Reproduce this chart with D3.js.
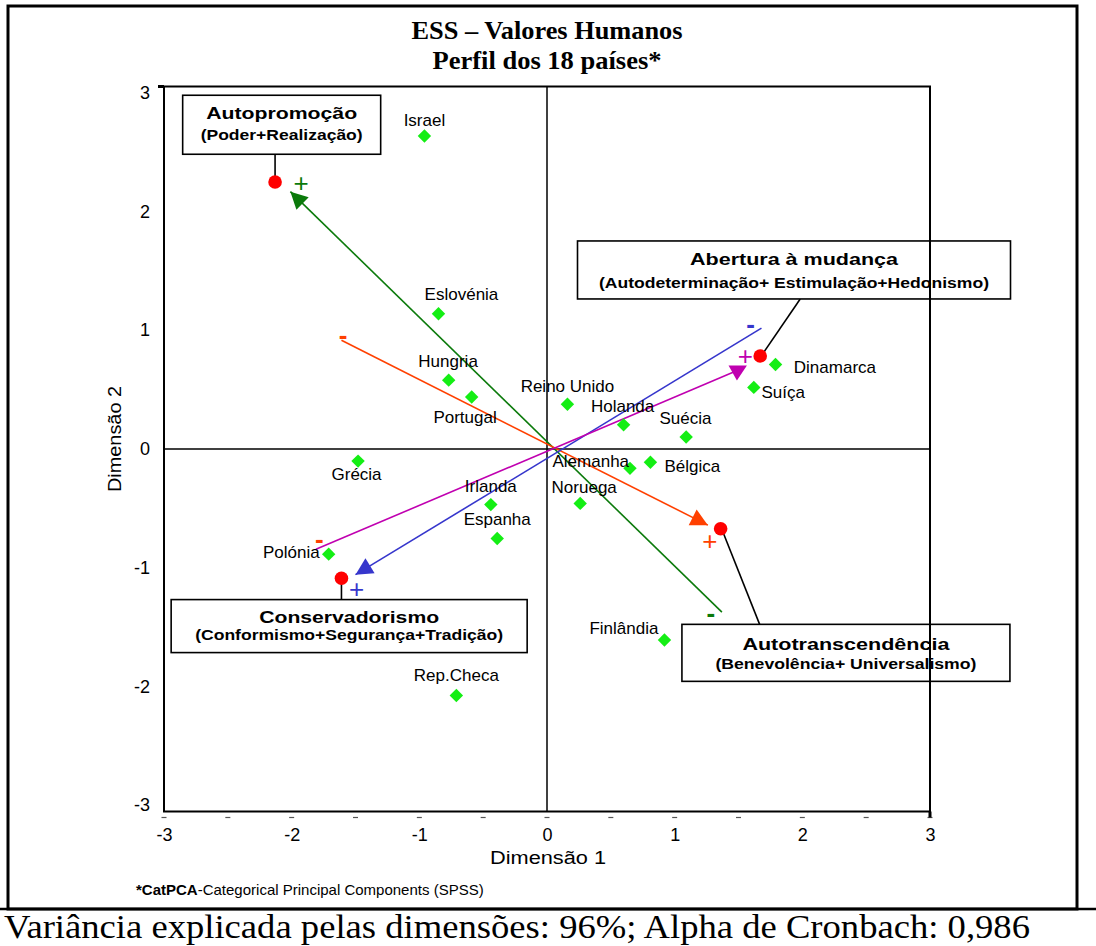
<!DOCTYPE html>
<html>
<head>
<meta charset="utf-8">
<script src="https://cdn.jsdelivr.net/npm/d3@7"></script>
<style>
  body { margin: 0; background: #fff; }
  svg { display: block; }
</style>
</head>
<body>
<svg id="chart" width="1096" height="946"></svg>
<script>
// ---- Country scores on the two CatPCA dimensions ----
const countries = ["Israel","Eslovénia","Hungria","Portugal","Reino Unido","Holanda","Suécia",
  "Dinamarca","Suíça","Alemanha","Bélgica","Noruega","Irlanda","Espanha","Grécia","Polónia",
  "Finlândia","Rep.Checa"];
const dim1 = [-0.96,-0.85,-0.77,-0.59,0.16,0.60,1.09,1.79,1.62,0.65,0.81,0.26,-0.44,-0.39,-1.48,-1.71,0.92,-0.71];
const dim2 = [2.59,1.12,0.57,0.43,0.37,0.20,0.10,0.70,0.51,-0.16,-0.11,-0.45,-0.46,-0.74,-0.10,-0.87,-1.58,-2.04];

// ---- Higher-order value types (red points with captions) ----
const valueTypes = ["Autopromoção","Abertura à mudança","Conservadorismo","Autotranscendência"];
const valueSub = ["(Poder+Realização)","(Autodeterminação+ Estimulação+Hedonismo)",
  "(Conformismo+Segurança+Tradição)","(Benevolência+ Universalismo)"];
const valueX = [-2.13, 1.67, -1.61, 1.36];
const valueY = [2.21, 0.77, -1.07, -0.66];

// ---- Value axes: from the "-" pole to the "+" pole ----
const vecPole = ["Autopromoção","Autotranscendência","Conservadorismo","Abertura à mudança"];
const vecFromX = [1.37, -1.61, 1.68, -1.81];
const vecFromY = [-1.35, 0.90, 1.00, -0.83];
const vecToX = [-2.01, 1.26, -1.50, 1.49];
const vecToY = [2.13, -0.63, -1.04, 0.65];

// ---- Tick values ----
const xTicks = [-3,-2,-1,0,1,2,3];
const yTicks = [-3,-2,-1,0,1,2,3];
const minorTicks = d3.range(-3, 3.01, 0.5);

// ---------------------------------------------------------------
const svg = d3.select("#chart");
const sans = "Arial, 'Liberation Sans', Helvetica, sans-serif";
const serif = "'Times New Roman', 'Liberation Serif', Times, serif";
const plain = d => String(d);

const x = d3.scaleLinear().domain([-3, 3]).range([164, 930]);
const y = d3.scaleLinear().domain([-3, 3]).range([811.5, 86.5]);
const yLab = d3.scaleLinear().domain([-3, 3]).range([805, 92.5]);

// outer frame and caption row
svg.append("rect").attr("x", 8).attr("y", 6).attr("width", 1069).attr("height", 903)
  .attr("fill", "none").attr("stroke", "#000").attr("stroke-width", 3);
svg.append("line").attr("x1", 0).attr("x2", 1096).attr("y1", 909).attr("y2", 909)
  .attr("stroke", "#000").attr("stroke-width", 2.5);
svg.append("text").attr("x", 4).attr("y", 938)
  .attr("font-family", serif).attr("font-size", 34)
  .attr("textLength", 1026).attr("lengthAdjust", "spacingAndGlyphs")
  .text("Variância explicada pelas dimensões: 96%; Alpha de Cronbach: 0,986");

// title
svg.append("text").attr("x", 547).attr("y", 39).attr("text-anchor", "middle")
  .attr("font-family", serif).attr("font-weight", "bold").attr("font-size", 25)
  .attr("textLength", 271).attr("lengthAdjust", "spacingAndGlyphs")
  .text("ESS – Valores Humanos");
svg.append("text").attr("x", 547).attr("y", 69).attr("text-anchor", "middle")
  .attr("font-family", serif).attr("font-weight", "bold").attr("font-size", 25)
  .attr("textLength", 229).attr("lengthAdjust", "spacingAndGlyphs")
  .text("Perfil dos 18 países*");

// footnote
const fn = svg.append("text").attr("x", 136).attr("y", 895)
  .attr("font-family", sans).attr("font-size", 15);
fn.append("tspan").attr("font-weight", "bold").text("*CatPCA");
fn.append("tspan").text("-Categorical Principal Components (SPSS)");

// axes (labels only)
const xAxis = svg.append("g").attr("transform", `translate(0,${y(-3)})`)
  .call(d3.axisBottom(x).tickValues(xTicks).tickSize(0).tickPadding(17).tickFormat(plain));
xAxis.select(".domain").remove();
xAxis.selectAll("text").attr("font-family", sans).attr("font-size", 18).attr("fill", "#000");

const yAxis = svg.append("g").attr("transform", `translate(${x(-3)},0)`)
  .call(d3.axisLeft(yLab).tickValues(yTicks).tickSize(0).tickPadding(14).tickFormat(plain));
yAxis.select(".domain").remove();
yAxis.selectAll("text").attr("font-family", sans).attr("font-size", 18).attr("fill", "#000");

// half-unit dashes under the x axis
svg.append("g").selectAll("line").data(minorTicks).join("line")
  .attr("x1", d => x(d) - 2.5).attr("x2", d => x(d) + 2.5)
  .attr("y1", y(-3) + 6).attr("y2", y(-3) + 6)
  .attr("stroke", "#555").attr("stroke-width", 1.2);

// axis titles
svg.append("text").attr("x", 548).attr("y", 864).attr("text-anchor", "middle")
  .attr("font-family", sans).attr("font-size", 18)
  .attr("textLength", 116).attr("lengthAdjust", "spacingAndGlyphs").text("Dimensão 1");
svg.append("text").attr("transform", "translate(121,439) rotate(-90)").attr("text-anchor", "middle")
  .attr("font-family", sans).attr("font-size", 18)
  .attr("textLength", 106).attr("lengthAdjust", "spacingAndGlyphs").text("Dimensão 2");

// zero lines
svg.append("line").attr("x1", x(-3)).attr("x2", x(3)).attr("y1", y(0)).attr("y2", y(0))
  .attr("stroke", "#000").attr("stroke-width", 1.5);
svg.append("line").attr("x1", x(0)).attr("x2", x(0)).attr("y1", y(3)).attr("y2", y(-3))
  .attr("stroke", "#000").attr("stroke-width", 1.5);

// ---- value axes ----
const vecColor = ["#0b7a0b", "#ff4000", "#3636cc", "#c000b0"];
const plusColor = ["#0b7a0b", "#ff4000", "#3636cc", "#c000b0"];
const minusColor = ["#0b7a0b", "#ff4000", "#3636cc", "#ff4000"];
const plusOff = [[10.7,-9],[2,15.7],[1,14.3],[8,-15]];
const minusOff = [[-11,1],[1.6,-5],[-11,-4.6],[3.3,-10.3]];
const gVec = svg.append("g");
vecPole.forEach((name, i) => {
  const x0 = x(vecFromX[i]), y0 = y(vecFromY[i]);
  const x1 = x(vecToX[i]), y1 = y(vecToY[i]);
  gVec.append("line").attr("x1", x0).attr("y1", y0).attr("x2", x1).attr("y2", y1)
    .attr("stroke", vecColor[i]).attr("stroke-width", 1.6);
  let pts;
  if (i === 3) {
    // this head is drawn as a downward triangle around the end point
    pts = [[x1 - 8.7, y1 - 5], [x1 + 9.7, y1 - 5], [x1 - 0.3, y1 + 10]];
  } else {
    const len = Math.hypot(x1 - x0, y1 - y0);
    const ux = (x1 - x0) / len, uy = (y1 - y0) / len;
    const L = 17, W = 8.8;
    const bx = x1 - ux * L, by = y1 - uy * L;
    pts = [[x1, y1], [bx - uy * W, by + ux * W], [bx + uy * W, by - ux * W]];
  }
  gVec.append("path").attr("d", d3.line()(pts) + "Z").attr("fill", vecColor[i]);
  gVec.append("text").attr("x", x1 + plusOff[i][0]).attr("y", y1 + plusOff[i][1])
    .attr("text-anchor", "middle").attr("dy", "0.35em")
    .attr("font-family", sans).attr("font-size", 26).attr("fill", plusColor[i]).text("+");
  gVec.append("text").attr("x", x0 + minusOff[i][0]).attr("y", y0 + minusOff[i][1])
    .attr("text-anchor", "middle").attr("dy", "0.35em")
    .attr("font-family", sans).attr("font-weight", "bold").attr("font-size", 26)
    .attr("fill", minusColor[i]).text("-");
});

// ---- countries ----
const labOff = [
  [0,-16,"middle"],[23,-20,"middle"],[-0.6,-19.3,"middle"],[-6.6,20,"middle"],
  [0,-18.6,"middle"],[-1,-18.3,"middle"],[-0.7,-19,"middle"],[18.3,2.4,"start"],
  [7.7,4.4,"start"],[-39.2,-7.3,"middle"],[14,3.3,"start"],[4,-16,"middle"],
  [0,-18.6,"middle"],[0,-19,"middle"],[-1.5,13.3,"middle"],[-9,-2,"end"],
  [-6,-12.3,"end"],[0,-20,"middle"]
];
const gC = svg.append("g");
const diamond = d3.symbol().type(d3.symbolSquare).size(90);
gC.selectAll("path").data(countries).join("path")
  .attr("d", diamond)
  .attr("transform", (d, i) => `translate(${x(dim1[i])},${y(dim2[i])}) rotate(45)`)
  .attr("fill", "#14ee14");
gC.selectAll("text").data(countries).join("text")
  .attr("x", (d, i) => x(dim1[i]) + labOff[i][0])
  .attr("y", (d, i) => y(dim2[i]) + labOff[i][1])
  .attr("dy", "0.35em").attr("text-anchor", (d, i) => labOff[i][2])
  .attr("font-family", sans).attr("font-size", 17).attr("fill", "#000")
  .text(d => d);

// ---- value types: red points, leaders and caption boxes ----
const box = [
  { left: -92.4, top: -86.7, w: 198, h: 59, lead: 0, t1: 18, t2: 40, l1: 151, l2: 162 },
  { left: -182.7, top: -115, w: 433, h: 58, lead: 40, t1: 18, t2: 41.7, l1: 208, l2: 390 },
  { left: -170.3, top: 21.3, w: 356, h: 53, lead: 0, t1: 17.7, t2: 36, l1: 180, l2: 308 },
  { left: -38.7, top: 95.6, w: 328, h: 57, lead: 39, t1: 20, t2: 40, l1: 207, l2: 261 }
];
const gV = svg.append("g");
valueTypes.forEach((name, i) => {
  const px = x(valueX[i]), py = y(valueY[i]);
  const b = box[i];
  const bx = px + b.left, by = py + b.top;
  const above = b.top < 0;
  const ly = above ? by + b.h : by;
  gV.append("line").attr("x1", px + b.lead).attr("y1", ly)
    .attr("x2", px + (b.lead ? 1 : 0)).attr("y2", py)
    .attr("stroke", "#000").attr("stroke-width", 1.6);
  gV.append("circle").attr("cx", px).attr("cy", py).attr("r", 6.8).attr("fill", "#ff0000");
  gV.append("rect").attr("x", bx).attr("y", by).attr("width", b.w).attr("height", b.h)
    .attr("fill", "#fff").attr("stroke", "#000").attr("stroke-width", 1.6);
  gV.append("text").attr("x", bx + b.w / 2).attr("y", by + b.t1).attr("dy", "0.35em")
    .attr("text-anchor", "middle").attr("font-family", sans).attr("font-weight", "bold")
    .attr("font-size", 17).attr("textLength", b.l1).attr("lengthAdjust", "spacingAndGlyphs")
    .text(name);
  gV.append("text").attr("x", bx + b.w / 2).attr("y", by + b.t2).attr("dy", "0.35em")
    .attr("text-anchor", "middle").attr("font-family", sans).attr("font-weight", "bold")
    .attr("font-size", 14).attr("textLength", b.l2).attr("lengthAdjust", "spacingAndGlyphs")
    .text(valueSub[i]);
});

// plot frame, drawn last so it shows through the caption boxes
svg.append("rect").attr("x", x(-3)).attr("y", y(3))
  .attr("width", x(3) - x(-3)).attr("height", y(-3) - y(3))
  .attr("fill", "none").attr("stroke", "#000").attr("stroke-width", 2);
svg.append("rect").attr("x", x(-3) - 6).attr("y", y(3) - 1.5).attr("width", 6).attr("height", 3).attr("fill", "#000");
svg.append("rect").attr("x", x(3) - 1.5).attr("y", y(-3)).attr("width", 3).attr("height", 6).attr("fill", "#000");
</script>
</body>
</html>
